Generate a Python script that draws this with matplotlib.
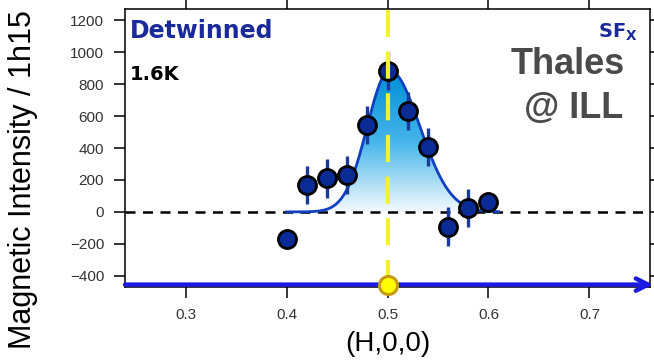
import numpy as np
import matplotlib.pyplot as plt
from matplotlib.colors import LinearSegmentedColormap

# measured points
h = [0.40, 0.42, 0.44, 0.46, 0.48, 0.50, 0.52, 0.54, 0.56, 0.58, 0.60]
intensity = [-170, 170, 210, 230, 545, 880, 630, 408, -92, 25, 65]
err = [0, 120, 120, 120, 120, 120, 120, 120, 120, 120, 0]

# fit parameters (asymmetric gaussian)
amp = 885
center = 0.502
sig_left = 0.022
sig_right = 0.030
fit_start, fit_end = 0.40, 0.61

xticks = [0.3, 0.4, 0.5, 0.6, 0.7]
yticks = [-400, -200, 0, 200, 400, 600, 800, 1000, 1200]

plt.rcParams['font.family'] = ['Liberation Sans', 'DejaVu Sans']

fig = plt.figure(figsize=(6.54, 3.64), dpi=100)
ax = fig.add_axes([125/654, 1-287/364, 525/654, 278/364])
ax.set_xlim(0.24, 0.76)
ax.set_ylim(-470, 1270)

xf = np.linspace(fit_start, fit_end, 300)
sig = np.where(xf < center, sig_left, sig_right)
yf = amp*np.exp(-(xf-center)**2/(2*sig**2))

# gradient fill under the fit
cmap = LinearSegmentedColormap.from_list('fill', ['#f4fafe', '#45b5ea', '#008ed6'])
grad = np.linspace(0, 1, 256).reshape(-1, 1)
im = ax.imshow(grad, cmap=cmap, origin='lower', aspect='auto',
               extent=(fit_start, fit_end, 0, amp), zorder=1)
poly = ax.fill_between(xf, 0, yf, color='none', lw=0)
im.set_clip_path(poly.get_paths()[0], transform=ax.transData)
ax.plot(xf, yf, color='#1040c0', lw=2, zorder=2)

# zero line
ax.axhline(0, color='black', lw=1.8, dashes=(4, 3), zorder=1.5)

ax.errorbar(h, intensity, yerr=err, fmt='o', ms=13, mfc='#0a2a96', mec='black',
            mew=2, ecolor='#1a3a9a', elinewidth=2.4, capsize=0, zorder=4)

# yellow line at H=0.5
ax.axvline(0.5, color='#f2f230', lw=3, dashes=(6.5, 3.5), zorder=5)

# arrow along the bottom
ax.annotate('', xy=(0.763, -455), xytext=(0.24, -455),
            arrowprops=dict(arrowstyle='->', color='#1a1ae0', lw=3.2,
                            mutation_scale=22, shrinkA=0, shrinkB=0),
            annotation_clip=False, zorder=6)
ax.plot([0.5], [-455], 'o', ms=13, mfc='#ffff00', mec='#c89a10', mew=2.2,
        clip_on=False, zorder=7)

ax.set_xticks(xticks)
ax.set_yticks(yticks)
ax.set_xticklabels([str(t) for t in xticks])
ax.tick_params(axis='both', direction='out', length=8, width=1.1,
               labelsize=11, labelcolor='#333333', pad=7,
               top=True, right=False)
ax.tick_params(axis='y', which='both', right=True)
for t in ax.yaxis.get_major_ticks():
    t.tick2line.set_markersize(3)
for s in ax.spines.values():
    s.set_linewidth(1.1)

ax.text(0.01, 0.965, 'Detwinned', transform=ax.transAxes, ha='left', va='top',
        fontsize=17, fontweight='bold', color='#1a2a9a', family='DejaVu Sans')
ax.text(0.01, 0.80, '1.6K', transform=ax.transAxes, ha='left', va='top',
        fontsize=14, fontweight='bold', color='black', family='DejaVu Sans')
ax.text(0.977, 0.955, r'SF$_\mathregular{X}$', transform=ax.transAxes,
        ha='right', va='top', fontsize=14, fontweight='bold', color='#1a2a9a',
        family='DejaVu Sans')
ax.text(0.952, 0.766, 'Thales', transform=ax.transAxes, ha='right',
        va='baseline', fontsize=26, fontweight='bold', color='#4a4a4a')
ax.text(0.949, 0.608, '@ ILL', transform=ax.transAxes, ha='right',
        va='baseline', fontsize=26, fontweight='bold', color='#4a4a4a')

fig.text(23/654, 1-180/364, 'Magnetic Intensity / 1h15', rotation=90,
         ha='center', va='center', fontsize=22)
fig.text(388/654, 1-344/364, '(H,0,0)', ha='center', va='center', fontsize=20)

fig.savefig('out.png', dpi=100)
